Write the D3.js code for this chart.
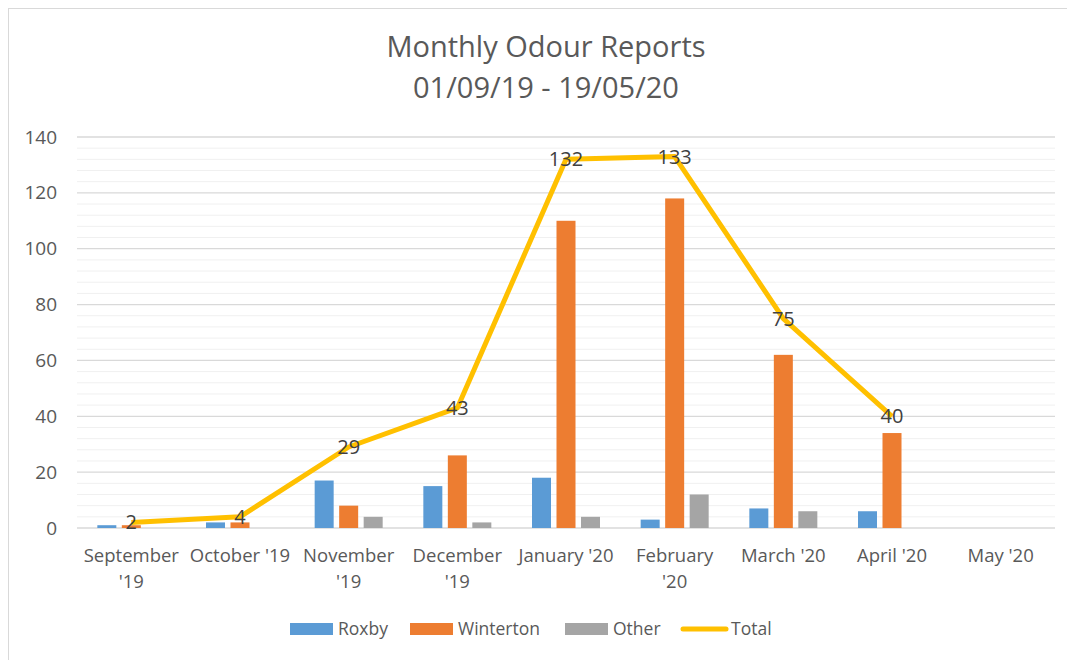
<!DOCTYPE html>
<html><head><meta charset="utf-8">
<script src="https://cdn.jsdelivr.net/npm/d3@7"></script>
<style>
html,body{margin:0;padding:0;background:#fff;}
svg text{font-family:"Open Sans",sans-serif;}
</style></head>
<body>
<svg id="chart" width="1067" height="660"></svg>
<script>
const categories = ["September '19","October '19","November '19","December '19","January '20","February '20","March '20","April '20","May '20"];
const categoryLines = [["September","'19"],["October '19"],["November","'19"],["December","'19"],["January '20"],["February","'20"],["March '20"],["April '20"],["May '20"]];
const roxby     = [1, 2, 17, 15, 18, 3, 7, 6, null];
const winterton = [1, 2, 8, 26, 110, 118, 62, 34, null];
const other     = [0, 0, 4, 2, 4, 12, 6, 0, null];
const total     = [2, 4, 29, 43, 132, 133, 75, 40, null];
const yTicks = [0, 20, 40, 60, 80, 100, 120, 140];
const seriesNames = ["Roxby","Winterton","Other","Total"];
const colors = ["#5B9BD5","#ED7D31","#A5A5A5","#FFC000"];
const titleLines = ["Monthly Odour Reports","01/09/19 - 19/05/20"];

const svg = d3.select("#chart");

// chart border
svg.append("rect").attr("x",8.5).attr("y",8.5).attr("width",1070).attr("height",660)
  .attr("fill","#fff").attr("stroke","#d9d9d9").attr("stroke-width",1);

const L = 77, R = 1055, T = 137, B = 528;
const x = d3.scaleBand().domain(categories).range([L, R]);
const y = d3.scaleLinear().domain([0, 140]).range([B, T]);

// minor grid
const minor = d3.range(0, 141, 4).filter(v => v % 20 !== 0);
svg.append("g").selectAll("line").data(minor).join("line")
  .attr("x1", L).attr("x2", R).attr("y1", d => y(d)).attr("y2", d => y(d))
  .attr("stroke", "#f0f0f0").attr("stroke-width", 1);
// major grid
svg.append("g").selectAll("line").data(yTicks).join("line")
  .attr("x1", L).attr("x2", R).attr("y1", d => y(d)).attr("y2", d => y(d))
  .attr("stroke", "#d9d9d9").attr("stroke-width", 1.3);

// y axis labels
const yAxis = d3.axisLeft(y).tickValues(yTicks).tickSize(0).tickPadding(20);
const gy = svg.append("g").attr("transform", `translate(${L},0)`).call(yAxis);
gy.select(".domain").remove();
gy.selectAll("text").attr("font-size", 19).attr("fill", "#595959").style("font-family","'Open Sans', sans-serif");

// bars
const series = [roxby, winterton, other];
const bw = 19, step = 24.5;
series.forEach((vals, si) => {
  svg.append("g").selectAll("rect").data(categories.map((c,i)=>({c, v: vals[i]})).filter(d => d.v !== null && d.v > 0))
    .join("rect")
    .attr("x", d => x(d.c) + x.bandwidth()/2 + (si-1)*step - bw/2)
    .attr("y", d => y(d.v)).attr("width", bw).attr("height", d => B - y(d.v))
    .attr("fill", colors[si]);
});

// total line
const pts = categories.map((c,i)=>({c, v: total[i]})).filter(d => d.v !== null);
const line = d3.line().x(d => x(d.c) + x.bandwidth()/2).y(d => y(d.v));
svg.append("path").datum(pts).attr("d", line).attr("fill","none")
  .attr("stroke", colors[3]).attr("stroke-width", 5).attr("stroke-linejoin","round");

// data labels
svg.append("g").selectAll("text").data(pts).join("text")
  .attr("x", d => x(d.c) + x.bandwidth()/2).attr("y", d => y(d.v) + 7)
  .attr("text-anchor","middle").attr("font-size", 20).attr("fill","#404040")
  .text(d => d.v);

// x labels
const gx = svg.append("g");
categories.forEach((c,i) => {
  const t = gx.append("text").attr("x", x(c) + x.bandwidth()/2).attr("y", 562)
    .attr("text-anchor","middle").attr("font-size",18.5).attr("fill","#595959");
  categoryLines[i].forEach((ln, j) => {
    t.append("tspan").attr("x", x(c) + x.bandwidth()/2).attr("dy", j===0?0:26).text(ln);
  });
});

// title
svg.append("text").attr("x", 546).attr("y", 57).attr("text-anchor","middle")
  .attr("font-size", 29).attr("fill","#595959").text(titleLines[0]);
svg.append("text").attr("x", 546).attr("y", 98).attr("text-anchor","middle")
  .attr("font-size", 29).attr("fill","#595959").text(titleLines[1]);

// legend
const legX = [290, 410, 565, 683];
seriesNames.forEach((n, i) => {
  const g = svg.append("g");
  if (i < 3) {
    g.append("rect").attr("x", legX[i]).attr("y", 623).attr("width", 43).attr("height", 12).attr("fill", colors[i]);
  } else {
    g.append("line").attr("x1", legX[i]).attr("x2", legX[i]+43).attr("y1", 629).attr("y2", 629)
      .attr("stroke", colors[i]).attr("stroke-width", 5).attr("stroke-linecap","round");
  }
  g.append("text").attr("x", legX[i] + 48).attr("y", 635).attr("font-size", 17.5).attr("fill","#595959").text(n);
});
</script>
</body></html>
